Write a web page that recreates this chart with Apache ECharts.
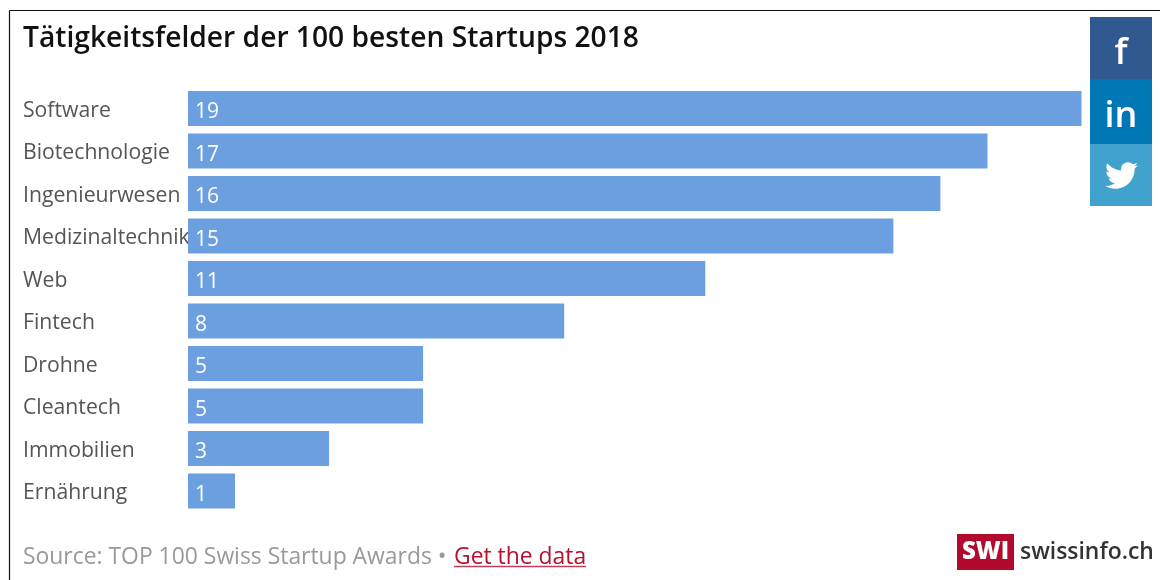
<!DOCTYPE html>
<html>
<head>
<meta charset="utf-8">
<style>
  html, body { margin: 0; padding: 0; background: #fff; }
  #chart { width: 1160px; height: 580px; }
</style>
<script src="https://cdn.jsdelivr.net/npm/echarts@6/dist/echarts.min.js"></script>
</head>
<body>
<div id="chart"></div>
<script>
// Werte
var categories = ["Software", "Biotechnologie", "Ingenieurwesen", "Medizinaltechnik", "Web", "Fintech", "Drohne", "Cleantech", "Immobilien", "Ernährung"];
var values = [19, 17, 16, 15, 11, 8, 5, 5, 3, 1];
var titleText = "Tätigkeitsfelder der 100 besten Startups 2018";
var sourceText = "Source: TOP 100 Swiss Startup Awards •";
var linkText = "Get the data";

var font = '"Open Sans"';
var twitterPath = "M24 4.6c-.9.4-1.8.7-2.8.8 1-.6 1.8-1.6 2.2-2.7-1 .6-2 1-3.1 1.2C19.3 2.9 18 2.3 16.6 2.3c-2.7 0-4.9 2.2-4.9 4.9 0 .4 0 .8.1 1.1C7.7 8.1 4.1 6.1 1.7 3.1c-.4.7-.7 1.6-.7 2.5 0 1.7.9 3.2 2.2 4.1-.8 0-1.6-.2-2.2-.6v.1c0 2.4 1.7 4.4 3.9 4.8-.4.1-.8.2-1.3.2-.3 0-.6 0-.9-.1.6 2 2.4 3.4 4.6 3.4-1.7 1.3-3.8 2.1-6.1 2.1-.4 0-.8 0-1.2-.1 2.2 1.4 4.8 2.2 7.5 2.2 9.1 0 14-7.5 14-14v-.6c1-.7 1.8-1.6 2.5-2.5z";
// graphic kennt kein path, deshalb als svg-bild
var twitterSvg = "data:image/svg+xml," + encodeURIComponent('<svg xmlns="http://www.w3.org/2000/svg" viewBox="0 0 24 24" width="32" height="32"><path fill="#fff" d="' + twitterPath + '"/></svg>');

var chart = echarts.init(document.getElementById("chart"));
chart.setOption({
    backgroundColor: "#fff",
    animation: false,
    title: {
        text: titleText,
        left: 23,
        top: 25,
        padding: 0,
        textStyle: {
            fontFamily: font,
            fontSize: 28.2,
            fontWeight: 600,
            color: "#111",
        },
    },
    grid: {
        left: 188,
        top: 87.25,
        width: 893.5,
        height: 425,
        containLabel: false,
    },
    xAxis: {
        type: "value",
        min: 0,
        max: 19,
        show: false,
    },
    yAxis: {
        type: "category",
        inverse: true,
        data: categories,
        axisLine: { show: false },
        axisTick: { show: false },
        splitLine: { show: false },
        axisLabel: {
            margin: 165,
            align: "left",
            formatter: "{a|{value}}",
            rich: {
                a: {
                    padding: [4, 0, 0, 0],
                    fontFamily: font,
                    fontSize: 21.2,
                    color: "#555",
                },
            },
        },
    },
    series: [
        {
            type: "bar",
            data: values,
            barWidth: 35,
            itemStyle: { color: "#6b9fdf" },
            label: {
                show: true,
                position: "insideLeft",
                distance: 7,
                offset: [0, 4],
                fontFamily: font,
                fontSize: 21,
                color: "#fff",
            },
        },
    ],
    graphic: [
        // Rahmen oben und links
        { type: "line", z: 10, shape: { x1: 9.5, y1: 10.5, x2: 1160, y2: 10.5 }, style: { stroke: "#111", lineWidth: 1.2 } },
        { type: "line", z: 10, shape: { x1: 9.5, y1: 10.5, x2: 9.5, y2: 580 }, style: { stroke: "#111", lineWidth: 1.2 } },
        // Social-Buttons
        { type: "rect", z: 10, shape: { x: 1090, y: 17, width: 62, height: 62 }, style: { fill: "#305891" } },
        { type: "rect", z: 10, shape: { x: 1090, y: 79, width: 62, height: 65 }, style: { fill: "#0077b5" } },
        { type: "rect", z: 10, shape: { x: 1090, y: 144, width: 62, height: 62 }, style: { fill: "#40a2cd" } },
        { type: "text", z: 11, style: { x: 1121, y: 54, text: "f", fill: "#fff", font: "600 36px " + font, align: "center", verticalAlign: "middle" } },
        { type: "text", z: 11, style: { x: 1121, y: 117, text: "in", fill: "#fff", font: "600 36px " + font, align: "center", verticalAlign: "middle" } },
        { type: "image", z: 11, style: { image: twitterSvg, x: 1105, y: 159, width: 33, height: 33 } },
        // Quelle
        { type: "text", z: 10, style: { x: 23, y: 557, text: sourceText, fill: "#999", font: "22.9px " + font, verticalAlign: "middle" } },
        { type: "text", z: 10, style: { x: 454, y: 557, text: linkText, fill: "#b5112f", font: "22.9px " + font, verticalAlign: "middle" } },
        { type: "line", z: 10, shape: { x1: 454, y1: 566.5, x2: 586, y2: 566.5 }, style: { stroke: "#c0415f", lineWidth: 1.5 } },
        // Logo
        { type: "rect", z: 10, shape: { x: 957, y: 534, width: 57, height: 36 }, style: { fill: "#b20a2c" } },
        { type: "text", z: 11, style: { x: 985.5, y: 552, text: "SWI", fill: "#fff", font: "800 24px " + font, align: "center", verticalAlign: "middle" } },
        { type: "text", z: 10, style: { x: 1020, y: 552, text: "swissinfo.ch", fill: "#333", font: "600 22.9px " + font, verticalAlign: "middle" } },
    ],
});
</script>
</body>
</html>
